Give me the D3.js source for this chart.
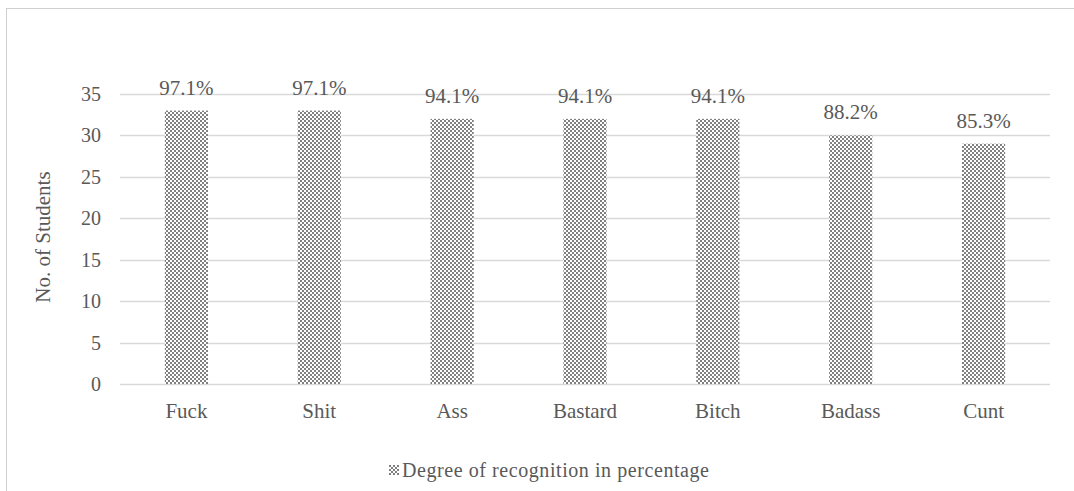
<!DOCTYPE html>
<html>
<head>
<meta charset="utf-8">
<script src="https://cdn.jsdelivr.net/npm/d3@7"></script>
<style>
  body { margin: 0; background: #fff; }
  svg text { font-family: "Liberation Serif", "Times New Roman", serif; fill: #595959; }
</style>
</head>
<body>
<div class="canva"></div>
<script>
// chart data
const words = ["Fuck", "Shit", "Ass", "Bastard", "Bitch", "Badass", "Cunt"];
const students = [33, 33, 32, 32, 32, 30, 29];
const percentLabels = ["97.1%", "97.1%", "94.1%", "94.1%", "94.1%", "88.2%", "85.3%"];
const yTicks = [0, 5, 10, 15, 20, 25, 30, 35];
const seriesName = "Degree of recognition in percentage";

const width = 1074, height = 491;
const margin = {left: 120, right: 24, top: 94, bottom: 107};
const serif = "'Liberation Serif', 'Times New Roman', serif";

const svg = d3.select(".canva").append("svg")
    .attr("width", width)
    .attr("height", height);

// checkerboard fill like the excel pattern
const defs = svg.append("defs");
const pat = defs.append("pattern")
    .attr("id", "check")
    .attr("patternUnits", "userSpaceOnUse")
    .attr("width", 4).attr("height", 4);
pat.append("rect").attr("width", 4).attr("height", 4).attr("fill", "#fff");
pat.append("rect").attr("width", 2).attr("height", 2).attr("fill", "#808080");
pat.append("rect").attr("x", 2).attr("y", 2).attr("width", 2).attr("height", 2).attr("fill", "#808080");

// outer chart border
svg.append("rect")
    .attr("x", 6.5).attr("y", 8.5)
    .attr("width", width).attr("height", height)
    .attr("fill", "none")
    .attr("stroke", "#d0d0d0");

const x = d3.scaleBand()
    .domain(words)
    .range([margin.left, width - margin.right])
    .paddingInner(0.675)
    .paddingOuter(0.3375);

const y = d3.scaleLinear()
    .domain([0, 35])
    .range([height - margin.bottom, margin.top]);

// gridlines
svg.append("g")
    .selectAll("line")
    .data(yTicks)
    .enter()
    .append("line")
    .attr("x1", margin.left)
    .attr("x2", width - margin.right)
    .attr("y1", d => Math.round(y(d)) + 0.5)
    .attr("y2", d => Math.round(y(d)) + 0.5)
    .attr("stroke", "#d9d9d9")
    .attr("stroke-width", 1.3);

// y tick labels
svg.append("g")
    .selectAll("text")
    .data(yTicks)
    .enter()
    .append("text")
    .attr("x", 101)
    .attr("y", d => y(d))
    .attr("dy", "0.35em")
    .attr("text-anchor", "end")
    .attr("font-family", serif)
    .style("font-size", "20px")
    .text(d => d);

// bars
svg.append("g")
    .selectAll("rect")
    .data(students)
    .enter()
    .append("rect")
    .attr("x", (d, i) => x(words[i]))
    .attr("y", d => y(d))
    .attr("width", x.bandwidth())
    .attr("height", d => y(0) - y(d))
    .attr("fill", "url(#check)");

// value labels above bars
svg.append("g")
    .selectAll("text")
    .data(students)
    .enter()
    .append("text")
    .attr("x", (d, i) => x(words[i]) + x.bandwidth() / 2)
    .attr("y", d => y(d) - 16)
    .attr("text-anchor", "middle")
    .attr("font-family", serif)
    .style("font-size", "21px")
    .text((d, i) => percentLabels[i]);

// category labels
svg.append("g")
    .selectAll("text")
    .data(words)
    .enter()
    .append("text")
    .attr("x", d => x(d) + x.bandwidth() / 2)
    .attr("y", 418)
    .attr("text-anchor", "middle")
    .attr("font-family", serif)
    .style("font-size", "21px")
    .text(d => d);

// y axis title
svg.append("text")
    .attr("transform", "translate(50," + ((margin.top + height - margin.bottom) / 2 - 2) + ") rotate(-90)")
    .attr("text-anchor", "middle")
    .attr("font-family", serif)
    .style("font-size", "21px")
    .text("No. of Students");

// legend
const lg = svg.append("g").attr("transform", "translate(389,465)");
lg.append("rect")
    .attr("width", 10).attr("height", 10)
    .attr("fill", "url(#check)");
lg.append("text")
    .attr("x", 13)
    .attr("y", 12)
    .attr("font-family", serif)
    .attr("textLength", 307)
    .attr("lengthAdjust", "spacing")
    .style("font-size", "20px")
    .text(seriesName);
</script>
</body>
</html>
